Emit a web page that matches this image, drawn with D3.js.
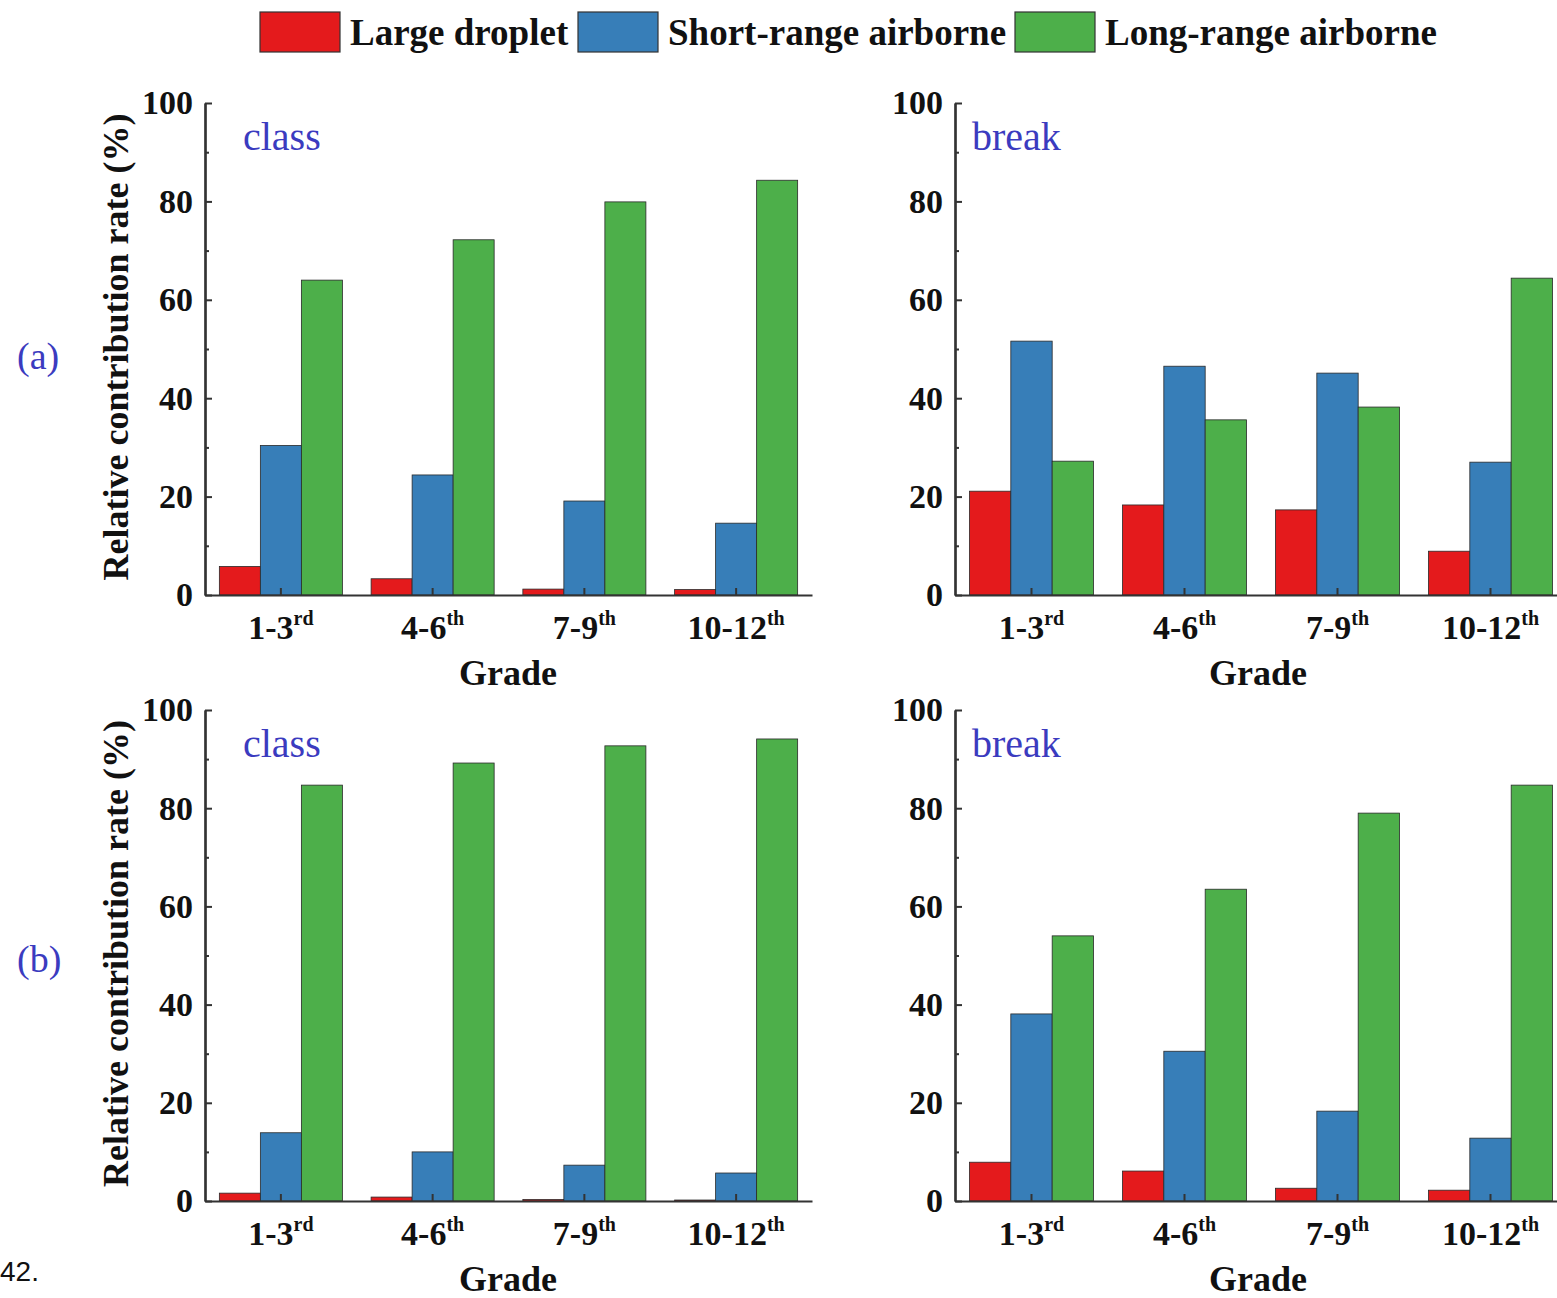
<!DOCTYPE html>
<html>
<head>
<meta charset="utf-8">
<script src="https://cdn.jsdelivr.net/npm/d3@7"></script>
<style>
  body { margin: 0; background: #fff; }
  svg { display: block; }
</style>
</head>
<body>
<svg id="chart" width="1557" height="1298"></svg>
<script>
// ---------- data ----------
const grades = ["1-3", "4-6", "7-9", "10-12"];
const gradeSup = ["rd", "th", "th", "th"];
const series = ["Large droplet", "Short-range airborne", "Long-range airborne"];
const colors = ["#e41a1c", "#377eb8", "#4daf4a"];
const yTicks = [0, 20, 40, 60, 80, 100];

// (a) class
const aClassLarge = [5.8, 3.3, 1.2, 1.1];
const aClassShort = [30.4, 24.4, 19.1, 14.6];
const aClassLong  = [64.0, 72.2, 79.9, 84.3];
// (a) break
const aBreakLarge = [21.1, 18.3, 17.3, 8.9];
const aBreakShort = [51.6, 46.5, 45.1, 27.0];
const aBreakLong  = [27.2, 35.6, 38.2, 64.4];
// (b) class
const bClassLarge = [1.6, 0.8, 0.3, 0.2];
const bClassShort = [13.9, 10.0, 7.3, 5.7];
const bClassLong  = [84.7, 89.2, 92.7, 94.1];
// (b) break
const bBreakLarge = [7.9, 6.1, 2.6, 2.2];
const bBreakShort = [38.1, 30.5, 18.3, 12.8];
const bBreakLong  = [54.0, 63.5, 79.0, 84.7];

const panels = [
  { label: "class", lx: 38, x0: 205, x1: 812, y0: 595, y1: 103, data: [aClassLarge, aClassShort, aClassLong], ytitle: true },
  { label: "break", lx: 17, x0: 955, x1: 1567, y0: 595, y1: 103, data: [aBreakLarge, aBreakShort, aBreakLong], ytitle: false },
  { label: "class", lx: 38, x0: 205, x1: 812, y0: 1201, y1: 710, data: [bClassLarge, bClassShort, bClassLong], ytitle: true },
  { label: "break", lx: 17, x0: 955, x1: 1567, y0: 1201, y1: 710, data: [bBreakLarge, bBreakShort, bBreakLong], ytitle: false }
];

const svg = d3.select("#chart");
const serif = "'Liberation Serif', 'Times New Roman', serif";
const axisColor = "#333";

panels.forEach(p => {
  const g = svg.append("g");
  const x = d3.scaleBand().domain(grades).range([p.x0, p.x1]).padding(0);
  const xs = d3.scaleBand().domain(series).range([0, x.bandwidth()]).paddingInner(0).paddingOuter(0.35);
  const y = d3.scaleLinear().domain([0, 100]).range([p.y0, p.y1]);

  // bars
  series.forEach((s, si) => {
    g.selectAll(null).data(grades).enter().append("rect")
      .attr("x", d => x(d) + xs(s))
      .attr("y", (d, i) => y(p.data[si][i]))
      .attr("width", xs.bandwidth())
      .attr("height", (d, i) => y(0) - y(p.data[si][i]))
      .attr("fill", colors[si])
      .attr("stroke", "#2a2a2a")
      .attr("stroke-width", 0.8);
  });

  // y axis
  const yAxis = d3.axisLeft(y).tickValues(yTicks).tickSizeInner(-7).tickSizeOuter(0).tickPadding(12);
  const ya = g.append("g").attr("transform", `translate(${p.x0},0)`).call(yAxis);
  // minor ticks
  const yMinor = d3.axisLeft(y).tickValues([10, 30, 50, 70, 90]).tickSizeInner(-4).tickSizeOuter(0).tickFormat("");
  const ym = g.append("g").attr("transform", `translate(${p.x0},0)`).call(yMinor);
  [ya, ym].forEach(a => {
    a.select(".domain").attr("stroke", axisColor).attr("stroke-width", 2.2);
    a.selectAll(".tick line").attr("stroke", axisColor).attr("stroke-width", 2);
  });
  ya.selectAll(".tick text")
    .attr("font-family", serif).attr("font-weight", "bold").attr("font-size", 34).attr("fill", "#111");

  // x axis
  const xAxis = d3.axisBottom(x).tickSizeInner(-7).tickSizeOuter(0).tickFormat("");
  const xa = g.append("g").attr("transform", `translate(0,${p.y0})`).call(xAxis);
  xa.select(".domain").attr("stroke", axisColor).attr("stroke-width", 2.2);
  xa.selectAll(".tick line").attr("stroke", axisColor).attr("stroke-width", 2);
  // x tick labels with superscripts
  grades.forEach((gr, i) => {
    const t = g.append("text")
      .attr("x", x(gr) + x.bandwidth() / 2)
      .attr("y", p.y0 + 44)
      .attr("text-anchor", "middle")
      .attr("font-family", serif).attr("font-weight", "bold").attr("font-size", 34).attr("fill", "#111");
    t.append("tspan").text(gr);
    t.append("tspan").attr("dy", -14).attr("font-size", 20).text(gradeSup[i]);
  });

  // x title
  g.append("text")
    .attr("x", p.x0 + 303)
    .attr("y", p.y0 + 90)
    .attr("text-anchor", "middle")
    .attr("font-family", serif).attr("font-weight", "bold").attr("font-size", 36).attr("fill", "#111")
    .text("Grade");

  // panel label
  g.append("text")
    .attr("x", p.x0 + p.lx)
    .attr("y", p.y1 + 47)
    .attr("font-family", serif).attr("font-size", 40).attr("fill", "#3b3bbf")
    .text(p.label);

  if (p.ytitle) {
    g.append("text")
      .attr("transform", `translate(${p.x0 - 77},${(p.y0 + p.y1) / 2 - 2}) rotate(-90)`)
      .attr("text-anchor", "middle")
      .attr("font-family", serif).attr("font-weight", "bold").attr("font-size", 36).attr("fill", "#111")
      .text("Relative contribution rate (%)");
  }
});

// row labels
svg.append("text").attr("x", 17).attr("y", 369)
  .attr("font-family", serif).attr("font-size", 38).attr("fill", "#3b3bbf").text("(a)");
svg.append("text").attr("x", 17).attr("y", 972)
  .attr("font-family", serif).attr("font-size", 38).attr("fill", "#3b3bbf").text("(b)");

// legend
const legendX = [260, 578, 1015];
series.forEach((s, i) => {
  svg.append("rect").attr("x", legendX[i]).attr("y", 12).attr("width", 80).attr("height", 40)
    .attr("fill", colors[i]).attr("stroke", "#333").attr("stroke-width", 1.2);
  svg.append("text").attr("x", legendX[i] + 90).attr("y", 45)
    .attr("font-family", serif).attr("font-weight", "bold").attr("font-size", 37).attr("fill", "#111")
    .text(s);
});

// figure number
svg.append("text").attr("x", 0).attr("y", 1281)
  .attr("font-family", "'Liberation Sans', Arial, sans-serif").attr("font-size", 28).attr("fill", "#111")
  .text("42.");
</script>
</body>
</html>
